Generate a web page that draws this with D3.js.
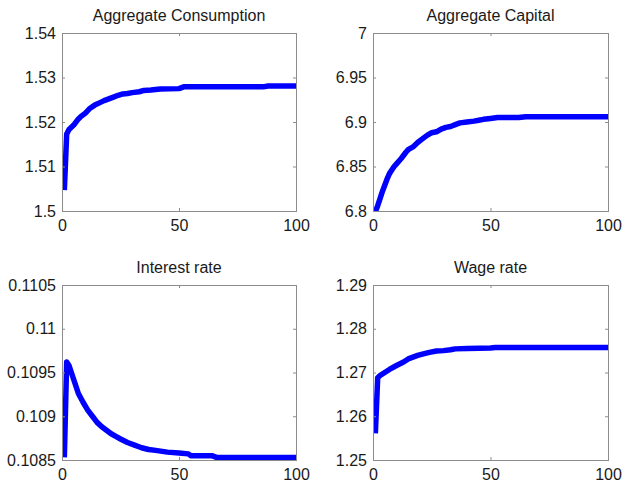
<!DOCTYPE html>
<html><head><meta charset="utf-8">
<script src="https://cdn.jsdelivr.net/npm/d3@7"></script>
<style>
html,body{margin:0;padding:0;background:#fff;}
svg{display:block;font-family:"Liberation Sans",Arial,sans-serif;}
</style></head>
<body><svg id="c" width="623" height="482"></svg>
<script>
// ---- data ----
const titles = ["Aggregate Consumption", "Aggregate Capital", "Interest rate", "Wage rate"];
const xTicks = [0, 50, 100];

const consT = [1,2,3,5,7,8,10,12,14,16,18,20,22,24,26,28,30,33,35,38,42,50,52,86,88,100];
const consV = [1.5047,1.5173,1.5183,1.5193,1.5207,1.5212,1.5220,1.5231,1.5238,1.5243,1.5248,1.5252,1.5256,1.5260,1.5263,1.5264,1.5266,1.5268,1.5271,1.5272,1.5274,1.5275,1.5279,1.5279,1.5281,1.5281];
const consTicks = [1.5, 1.51, 1.52, 1.53, 1.54];
const consTickLabels = ["1.5","1.51","1.52","1.53","1.54"];

const capT = [1,2,3,4,5,6,7,8,9,10,12,14,15,17,19,21,23,25,27,29,31,33,35,37,40,43,45,47,50,53,62,65,100];
const capV = [6.799,6.806,6.814,6.822,6.829,6.836,6.842,6.846,6.850,6.853,6.859,6.866,6.869,6.872,6.877,6.881,6.885,6.888,6.889,6.892,6.894,6.895,6.897,6.899,6.900,6.901,6.902,6.903,6.904,6.905,6.905,6.906,6.906];
const capTicks = [6.8, 6.85, 6.9, 6.95, 7];
const capTickLabels = ["6.8","6.85","6.9","6.95","7"];

const rateT = [1,2,3,5,7,9,11,13,15,17,19,21,23,25,28,31,34,37,40,45,50,54,55,64,66,100];
const rateV = [0.10853,0.10962,0.10958,0.10942,0.10926,0.10916,0.10907,0.10900,0.10893,0.10888,0.10884,0.10880,0.10877,0.10874,0.10870,0.10867,0.10864,0.10862,0.10861,0.10859,0.10858,0.10857,0.10855,0.10855,0.10853,0.10853];
const rateTicks = [0.1085, 0.109, 0.1095, 0.11, 0.1105];
const rateTickLabels = ["0.1085","0.109","0.1095","0.11","0.1105"];

const wageT = [1,2,3,5,7,10,13,15,17,19,21,24,27,30,33,35,40,50,52,100];
const wageV = [1.2561,1.2688,1.2693,1.2700,1.2707,1.2716,1.2724,1.2731,1.2735,1.2739,1.2742,1.2746,1.2749,1.2750,1.2752,1.2754,1.2755,1.2756,1.2757,1.2757];
const wageTicks = [1.25, 1.26, 1.27, 1.28, 1.29];
const wageTickLabels = ["1.25","1.26","1.27","1.28","1.29"];

// ---- layout ----
const panels = [
  {title: titles[0], t: consT, v: consV, ticks: consTicks, labels: consTickLabels, box: [62, 296, 33, 211]},
  {title: titles[1], t: capT,  v: capV,  ticks: capTicks,  labels: capTickLabels,  box: [373, 608, 33, 211]},
  {title: titles[2], t: rateT, v: rateV, ticks: rateTicks, labels: rateTickLabels, box: [62, 296, 285, 460]},
  {title: titles[3], t: wageT, v: wageV, ticks: wageTicks, labels: wageTickLabels, box: [373, 608, 285, 460]}
];

const svg = d3.select("#c");
const axisColor = "#8c8c8c";
const fontSize = 16;

panels.forEach((p, i) => {
  const [x0, x1, y0, y1] = p.box;
  const x = d3.scaleLinear().domain([0, 100]).range([x0, x1]);
  const y = d3.scaleLinear().domain([p.ticks[0], p.ticks[p.ticks.length - 1]]).range([y1, y0]);
  const g = svg.append("g");

  const cid = "clip" + i;
  svg.append("clipPath").attr("id", cid).append("rect")
    .attr("x", x0).attr("y", y0).attr("width", x1 - x0).attr("height", y1 - y0);

  const data = p.t.map((t, k) => [t, p.v[k]]);
  g.append("path").datum(data)
    .attr("clip-path", `url(#${cid})`)
    .attr("fill", "none").attr("stroke", "#0000ff").attr("stroke-width", 5.5)
    .attr("stroke-linejoin", "round").attr("stroke-linecap", "butt")
    .attr("d", d3.line().x(d => x(d[0])).y(d => y(d[1])));

  const styleAxis = sel => {
    sel.select(".domain").remove();
    sel.selectAll(".tick line").attr("stroke", axisColor);
    sel.selectAll(".tick text").attr("fill", "#1a1a1a").style("font-size", fontSize + "px")
      .style("font-family", '"Liberation Sans",Arial,sans-serif');
  };

  g.append("g").attr("transform", `translate(${x0},0)`)
    .call(d3.axisLeft(y).tickValues(p.ticks).tickFormat((d, k) => p.labels[k]).tickSize(-3).tickPadding(6))
    .call(styleAxis);
  g.append("g").attr("transform", `translate(${x1},0)`)
    .call(d3.axisRight(y).tickValues(p.ticks).tickFormat("").tickSize(-3))
    .call(styleAxis);
  g.append("g").attr("transform", `translate(0,${y1})`)
    .call(d3.axisBottom(x).tickValues(xTicks).tickFormat(d3.format("d")).tickSize(-3).tickPadding(6))
    .call(styleAxis)
    .selectAll(".tick text").attr("dy", "0.9em");
  g.append("g").attr("transform", `translate(0,${y0})`)
    .call(d3.axisTop(x).tickValues(xTicks).tickFormat("").tickSize(-3))
    .call(styleAxis);

  g.append("rect").attr("x", x0 + 0.5).attr("y", y0 + 0.5)
    .attr("width", x1 - x0).attr("height", y1 - y0)
    .attr("fill", "none").attr("stroke", axisColor).attr("stroke-width", 1);

  g.append("text").attr("x", (x0 + x1) / 2).attr("y", y0 - 12.5)
    .attr("text-anchor", "middle").attr("fill", "#1a1a1a")
    .style("font-size", fontSize + "px").text(p.title);
});
</script>
</body></html>
